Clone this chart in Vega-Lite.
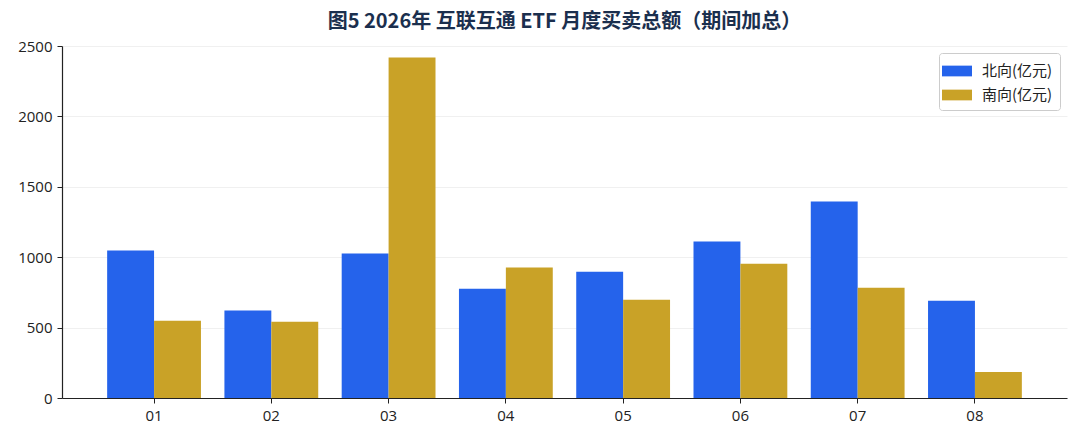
{
  "$schema": "https://vega.github.io/schema/vega-lite/v6.json",
  "autosize": {"type": "none"},
  "width": 1005,
  "height": 352,
  "padding": {"left": 62, "top": 46, "right": 13, "bottom": 42},
  "background": "white",
  "title": {
    "text": "图5 2026年 互联互通 ETF 月度买卖总额（期间加总）",
    "font": "Noto Sans CJK SC",
    "fontSize": 20,
    "fontWeight": "bold",
    "color": "#1B2F4E",
    "offset": 7,
    "anchor": "middle"
  },
  "data": {
    "values": [
      {"month": "01", "dir": "北向(亿元)", "value": 1048},
      {"month": "01", "dir": "南向(亿元)", "value": 548},
      {"month": "02", "dir": "北向(亿元)", "value": 622},
      {"month": "02", "dir": "南向(亿元)", "value": 541},
      {"month": "03", "dir": "北向(亿元)", "value": 1026},
      {"month": "03", "dir": "南向(亿元)", "value": 2418},
      {"month": "04", "dir": "北向(亿元)", "value": 776},
      {"month": "04", "dir": "南向(亿元)", "value": 926},
      {"month": "05", "dir": "北向(亿元)", "value": 897},
      {"month": "05", "dir": "南向(亿元)", "value": 698},
      {"month": "06", "dir": "北向(亿元)", "value": 1111},
      {"month": "06", "dir": "南向(亿元)", "value": 954},
      {"month": "07", "dir": "北向(亿元)", "value": 1396},
      {"month": "07", "dir": "南向(亿元)", "value": 783},
      {"month": "08", "dir": "北向(亿元)", "value": 691},
      {"month": "08", "dir": "南向(亿元)", "value": 185}
    ]
  },
  "config": {
    "view": {"stroke": null},
    "font": "Noto Sans CJK SC"
  },
  "mark": {"type": "bar"},
  "encoding": {
    "x": {
      "field": "month",
      "type": "nominal",
      "title": null,
      "scale": {"paddingInner": 0.2, "paddingOuter": 0.385},
      "axis": {
        "labelAngle": 0,
        "labelFont": "Open Sans",
        "labelFontSize": 15,
        "labelColor": "#222",
        "labelPadding": 5,
        "domainColor": "#222",
        "domainWidth": 1.2,
        "tickColor": "#222",
        "tickSize": 5,
        "grid": false
      }
    },
    "xOffset": {"field": "dir", "type": "nominal", "sort": ["北向(亿元)", "南向(亿元)"], "scale": {"paddingInner": 0}},
    "y": {
      "field": "value",
      "type": "quantitative",
      "title": null,
      "scale": {"domain": [0, 2500], "nice": false},
      "axis": {
        "values": [0, 500, 1000, 1500, 2000, 2500],
        "format": "d",
        "labelFont": "Open Sans",
        "labelFontSize": 15,
        "labelColor": "#222",
        "labelPadding": 5,
        "domainColor": "#222",
        "domainWidth": 1.2,
        "tickColor": "#222",
        "tickSize": 5,
        "gridColor": "#ececec",
        "gridWidth": 0.8
      }
    },
    "color": {
      "field": "dir",
      "type": "nominal",
      "sort": ["北向(亿元)", "南向(亿元)"],
      "scale": {"domain": ["北向(亿元)", "南向(亿元)"], "range": ["#2563EB", "#C9A227"]},
      "legend": {
        "title": null,
        "orient": "top-right",
        "offset": 7,
        "labelFont": "Noto Sans CJK SC",
        "labelFontSize": 15,
        "labelColor": "#222",
        "symbolType": "M-1.4,-0.5L1.4,-0.5L1.4,0.5L-1.4,0.5Z",
        "symbolSize": 460,
        "symbolOpacity": 1,
        "symbolStrokeWidth": 0,
        "rowPadding": 5,
        "labelOffset": 14,
        "strokeColor": "#cccccc",
        "cornerRadius": 3,
        "padding": 7,
        "fillColor": "white"
      }
    }
  }
}
